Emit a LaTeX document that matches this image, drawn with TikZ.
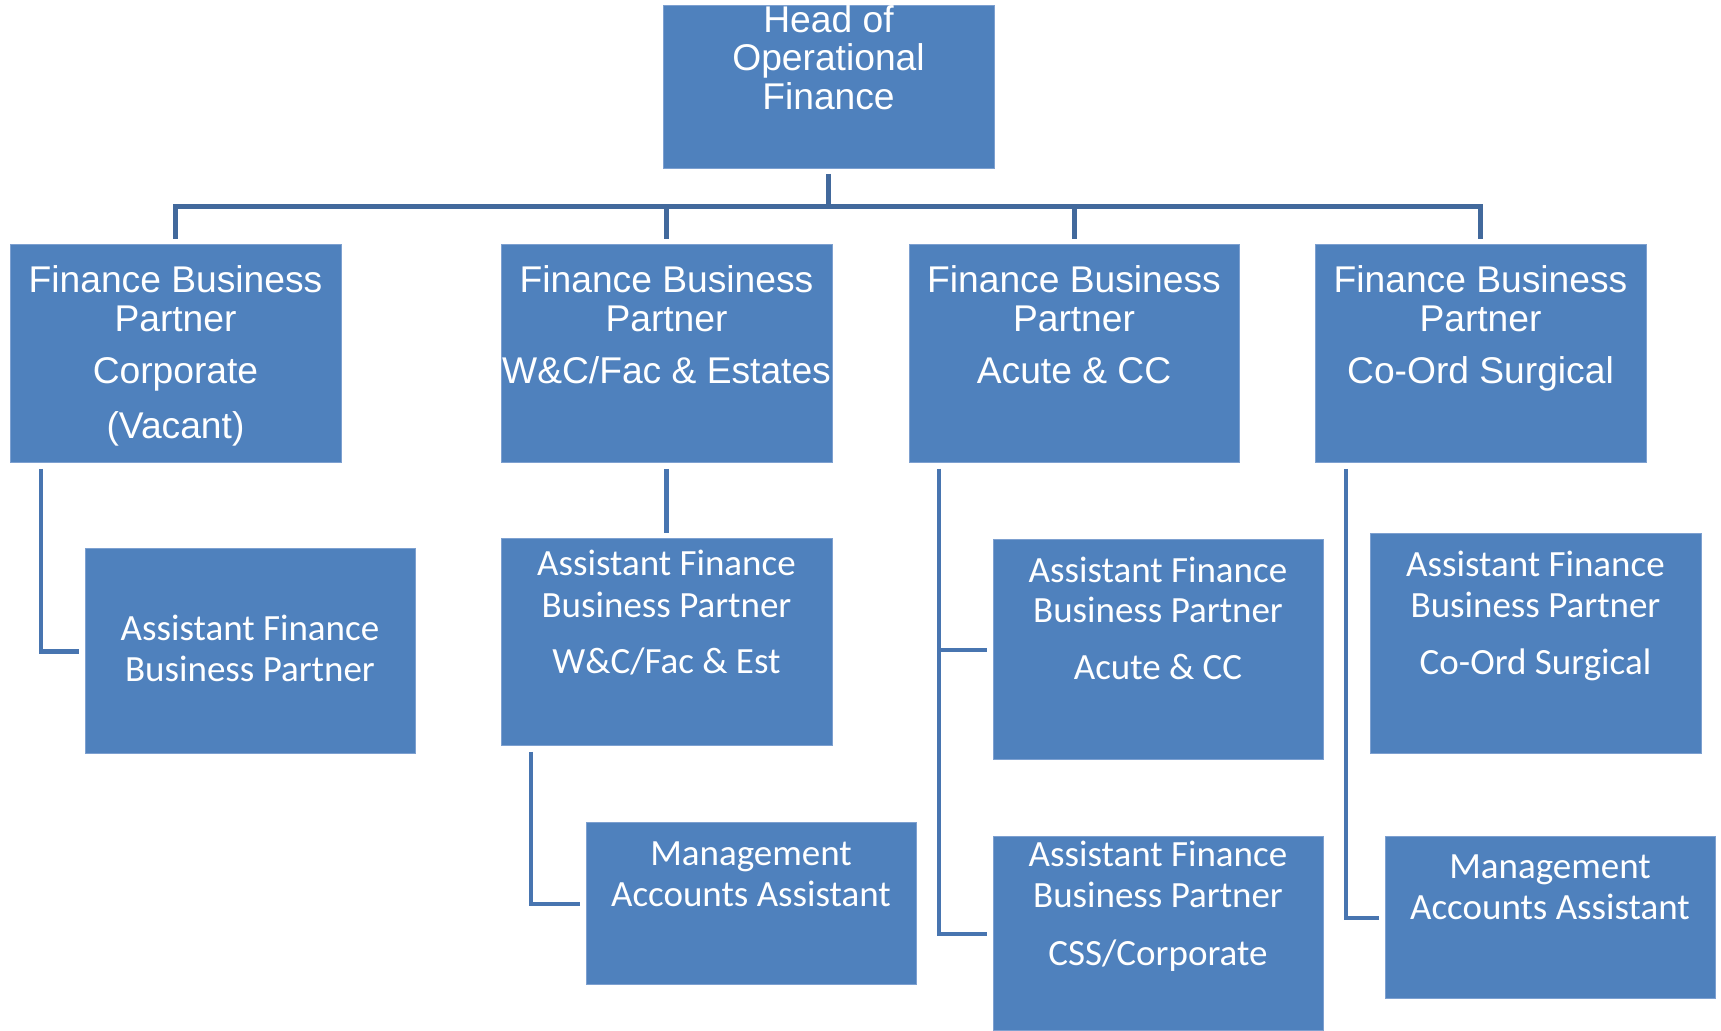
\documentclass[tikz,border=0pt]{standalone}
\usepackage{fontspec}
\newfontfamily\arialf{Liberation Sans}
\newfontfamily\calf{Carlito}
\usetikzlibrary{calc}
\definecolor{boxfill}{RGB}{79,129,189}
\definecolor{boxedge}{RGB}{125,160,208}
\definecolor{topline}{RGB}{66,105,156}
\definecolor{subline}{RGB}{72,117,176}
\newcommand\orgbox[5]{\node[box, minimum width=#4*0.5pt, minimum height=#5*0.5pt] (#1) at (#2,#3) {};}
\begin{document}
\begin{tikzpicture}[x=0.5pt,y=-0.5pt,
  box/.style={draw=boxedge, line width=0.5pt, fill=boxfill, inner sep=0pt, outer sep=0pt, anchor=north west, rectangle},
  ta/.style={anchor=base, inner sep=0pt, text=white, font=\arialf\fontsize{18.6pt}{22pt}\selectfont},
  tc/.style={anchor=base, inner sep=0pt, text=white, font=\calf\fontsize{18.5pt}{22pt}\selectfont},
  topconn/.style={draw=topline, line width=2.5pt, shorten <=3pt, shorten >=3pt},
  subconn/.style={draw=subline, line width=2.25pt, shorten <=3pt, shorten >=3pt}]
\useasboundingbox[fill=white] (0,0) rectangle (1721,1031);
% boxes
\orgbox{head}{663}{6}{331}{163}
\orgbox{fbp1}{10}{245}{331}{218}
\orgbox{fbp2}{501}{245}{331}{218}
\orgbox{fbp3}{909}{245}{330}{218}
\orgbox{fbp4}{1315}{245}{331}{218}
\orgbox{afbp1}{85}{549}{330}{205}
\orgbox{afbp2}{501}{539}{331}{207}
\orgbox{maa2}{586}{823}{330}{162}
\orgbox{afbp3}{993}{540}{330}{220}
\orgbox{afbp3b}{993}{837}{330}{194}
\orgbox{afbp4}{1370}{534}{331}{220}
\orgbox{maa4}{1385}{837}{330}{162}
% top connectors
\coordinate (bar) at (828.5,206.5);
\draw[topconn, shorten <=2.5pt, shorten >=0pt] (head.south) -- (head.south |- bar);
\draw[topconn] (fbp1.north) -- (fbp1.north |- bar) -- (fbp4.north |- bar) -- (fbp4.north);
\draw[topconn, shorten <=0pt] (fbp2.north |- bar) -- (fbp2.north);
\draw[topconn, shorten <=0pt] (fbp3.north |- bar) -- (fbp3.north);
% lower connectors
\draw[subconn] ($(fbp1.south west)+(31,0)$) |- (afbp1.west);
\draw[subconn] (fbp2.south) -- (afbp2.north);
\draw[subconn] ($(afbp2.south west)+(30,0)$) |- (maa2.west);
\draw[subconn] ($(fbp3.south west)+(30,0)$) |- (afbp3.west);
\draw[subconn] ($(fbp3.south west)+(30,0)$) |- (afbp3b.west);
\draw[subconn] ($(fbp4.south west)+(31,0)$) |- (maa4.west);
% texts: head
\node[ta] (h1) at (828.5,33) {Head of};
\node[ta] (h2) at (828.5,71) {Operational};
\node[ta] (h3) at (828.5,110) {Finance};
% FBP 1
\node[ta] (f1a) at (175.5,293) {Finance Business};
\node[ta] (f1b) at (175.5,332) {Partner};
\node[ta] (f1c) at (175.5,384) {Corporate};
\node[ta] (f1d) at (175.5,439) {(Vacant)};
% FBP 2
\node[ta] (f2a) at (666.5,293) {Finance Business};
\node[ta] (f2b) at (666.5,332) {Partner};
\node[ta] (f2c) at (666.5,384) {W\&C/Fac \& Estates};
% FBP 3
\node[ta] (f3a) at (1074,293) {Finance Business};
\node[ta] (f3b) at (1074,332) {Partner};
\node[ta] (f3c) at (1074,384) {Acute \& CC};
% FBP 4
\node[ta] (f4a) at (1480.5,293) {Finance Business};
\node[ta] (f4b) at (1480.5,332) {Partner};
\node[ta] (f4c) at (1480.5,384) {Co-Ord Surgical};
% AFBP 1
\node[tc] (a1a) at (250,641) {Assistant Finance};
\node[tc] (a1b) at (250,682) {Business Partner};
% AFBP 2
\node[tc] (a2a) at (666.5,576) {Assistant Finance};
\node[tc] (a2b) at (666.5,618) {Business Partner};
\node[tc] (a2c) at (666.5,674) {W\&C/Fac \& Est};
% MAA 2
\node[tc] (m2a) at (751,866) {Management};
\node[tc] (m2b) at (751,907) {Accounts Assistant};
% AFBP 3
\node[tc] (a3a) at (1158,583) {Assistant Finance};
\node[tc] (a3b) at (1158,623) {Business Partner};
\node[tc] (a3c) at (1158,680) {Acute \& CC};
% AFBP 3b
\node[tc] (b3a) at (1158,867) {Assistant Finance};
\node[tc] (b3b) at (1158,908) {Business Partner};
\node[tc] (b3c) at (1158,966) {CSS/Corporate};
% AFBP 4
\node[tc] (a4a) at (1535.5,577) {Assistant Finance};
\node[tc] (a4b) at (1535.5,618) {Business Partner};
\node[tc] (a4c) at (1535.5,675) {Co-Ord Surgical};
% MAA 4
\node[tc] (m4a) at (1550,879) {Management};
\node[tc] (m4b) at (1550,920) {Accounts Assistant};
\end{tikzpicture}
\end{document}
